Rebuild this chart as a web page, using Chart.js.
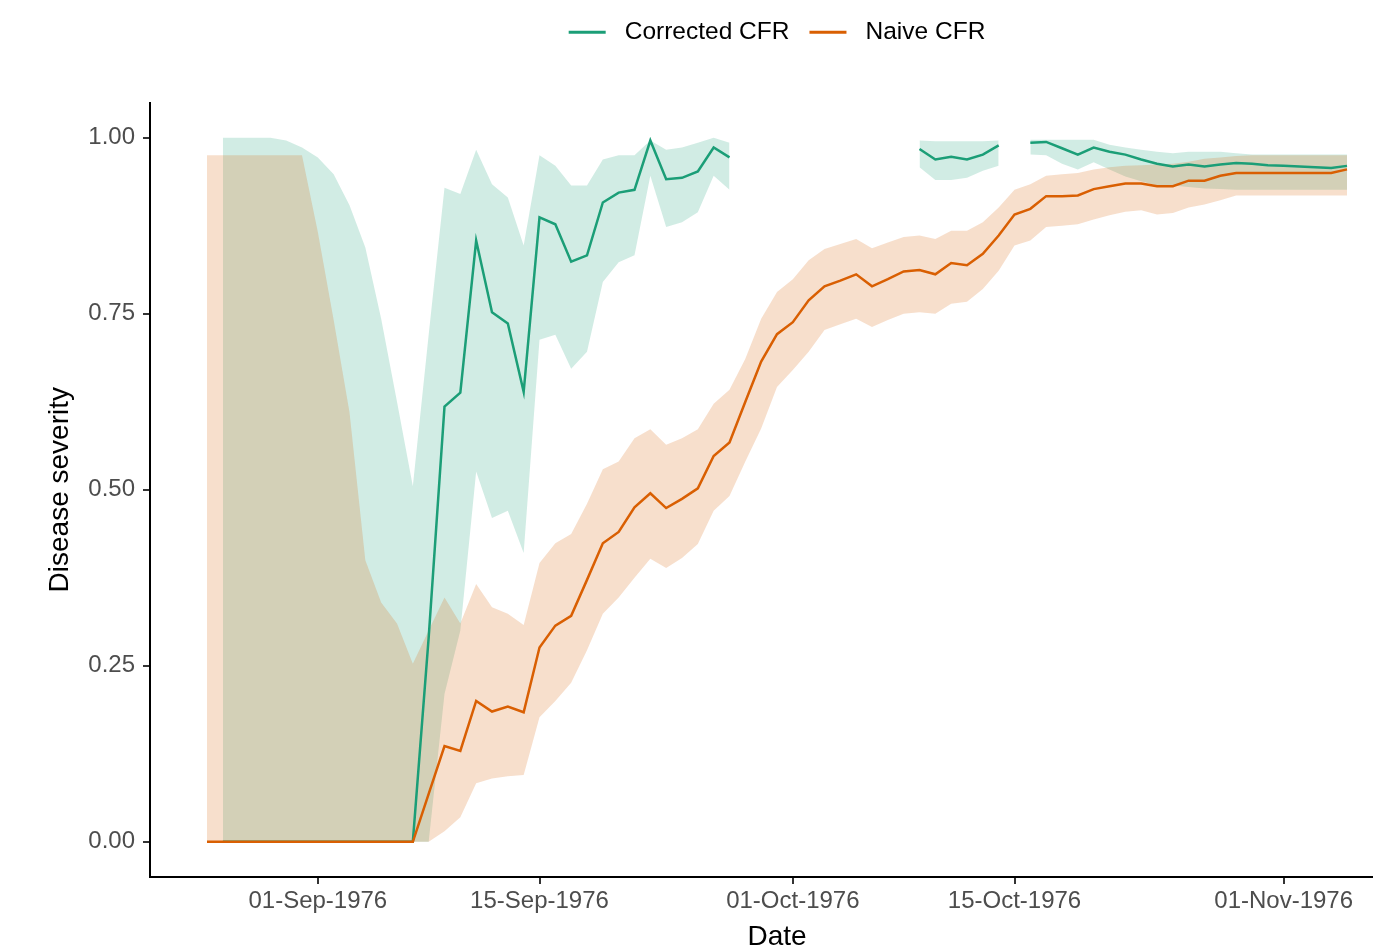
<!DOCTYPE html>
<html>
<head>
<meta charset="utf-8">
<title>CFR</title>
<script src="https://cdn.jsdelivr.net/npm/chart.js@4.4.1/dist/chart.umd.min.js"></script>
<style>
  html, body { margin: 0; padding: 0; background: #fff; overflow: hidden; }
  #wrap { position: absolute; left: 0; top: 0; width: 1404px; height: 951px; }
</style>
</head>
<body>
<div id="wrap"><canvas id="cfr" width="1404" height="951"></canvas></div>
<script>
// days counted from 01-Sep-1976 (first point is 25-Aug-1976)
var days = [];
for (var d = -7; d <= 65; d++) days.push(d);

var tickDays = [0, 14, 30, 44, 61];
var tickLabels = ["01-Sep-1976", "15-Sep-1976", "01-Oct-1976", "15-Oct-1976", "01-Nov-1976"];
var yTicks = [0, 0.25, 0.5, 0.75, 1];

var naive = [
  0, 0, 0, 0, 0, 0, 0, 0, 0, 0, 0, 0, 0, 0,
  0.068, 0.136, 0.129, 0.2, 0.185, 0.192, 0.184, 0.276, 0.307, 0.321,
  0.372, 0.424, 0.44, 0.475, 0.495, 0.474, 0.487, 0.502, 0.548, 0.567,
  0.625, 0.682, 0.721, 0.738, 0.769, 0.789, 0.797, 0.806, 0.789, 0.799,
  0.81, 0.812, 0.806, 0.822, 0.819, 0.835, 0.861, 0.891, 0.899, 0.917,
  0.917, 0.918, 0.927, 0.931, 0.935, 0.935, 0.931, 0.931, 0.939, 0.939,
  0.946, 0.95, 0.95, 0.95, 0.95, 0.95, 0.95, 0.95, 0.955
];
var naiveLow = [
  0, 0, 0, 0, 0, 0, 0, 0, 0, 0, 0, 0, 0, 0, 0,
  0.015, 0.035, 0.083, 0.09, 0.093, 0.095, 0.177, 0.2, 0.226, 0.272,
  0.324, 0.347, 0.375, 0.402, 0.389, 0.403, 0.423, 0.47, 0.491, 0.54,
  0.587, 0.646, 0.67, 0.696, 0.727, 0.735, 0.743, 0.731, 0.741, 0.75,
  0.752, 0.75, 0.764, 0.767, 0.785, 0.811, 0.847, 0.854, 0.873, 0.875,
  0.877, 0.884, 0.89, 0.895, 0.897, 0.891, 0.893, 0.901, 0.905, 0.911,
  0.918, 0.918, 0.918, 0.918, 0.918, 0.918, 0.918, 0.918
];
var naiveHigh = [
  0.975, 0.975, 0.975, 0.975, 0.975, 0.975, 0.975,
  0.866, 0.741, 0.61, 0.4, 0.34, 0.31, 0.253, 0.3, 0.347, 0.31,
  0.366, 0.333, 0.324, 0.308, 0.396, 0.424, 0.437, 0.48, 0.529, 0.54,
  0.573, 0.586, 0.564, 0.573, 0.586, 0.622, 0.642, 0.686, 0.743, 0.781,
  0.799, 0.826, 0.842, 0.849, 0.856, 0.843, 0.851, 0.859, 0.861, 0.856,
  0.868, 0.868, 0.88, 0.901, 0.926, 0.934, 0.946, 0.948, 0.95, 0.955,
  0.958, 0.96, 0.961, 0.962, 0.963, 0.966, 0.97, 0.972, 0.974,
  0.975, 0.975, 0.975, 0.975, 0.975, 0.975, 0.975
];

var corrected = [
  null, 0, 0, 0, 0, 0, 0, 0, 0, 0, 0, 0, 0, 0,
  0.29, 0.618, 0.638, 0.854, 0.752, 0.736, 0.639, 0.887, 0.877, 0.824,
  0.833, 0.908, 0.922, 0.926, 0.996, 0.941, 0.943, 0.952, 0.986, 0.972,
  null, null, null, null, null, null, null, null, null, null, null,
  0.984, 0.969, 0.973, 0.969, 0.976, 0.989,
  null,
  0.993, 0.994, 0.985, 0.976, 0.986, 0.98, 0.976, 0.969, 0.963, 0.959,
  0.962, 0.959, 0.962, 0.964, 0.963, 0.961, 0.96, 0.959, 0.958, 0.957, 0.96
];
var correctedLow = [
  null, 0, 0, 0, 0, 0, 0, 0, 0, 0, 0, 0, 0, 0,
  0, 0.21, 0.3, 0.526, 0.46, 0.47, 0.41, 0.713, 0.72, 0.672,
  0.696, 0.795, 0.823, 0.833, 0.946, 0.873, 0.88, 0.894, 0.946, 0.926,
  null, null, null, null, null, null, null, null, null, null, null,
  0.958, 0.94, 0.94, 0.943, 0.953, 0.96,
  null,
  0.976, 0.975, 0.963, 0.955, 0.965, 0.955, 0.945, 0.938, 0.932, 0.932,
  0.93, 0.928, 0.927, 0.926, 0.926, 0.926, 0.926, 0.926, 0.926, 0.926, 0.926
];
var correctedHigh = [
  null, 1, 1, 1, 1, 0.996, 0.986,
  0.972, 0.948, 0.904, 0.844, 0.743, 0.625, 0.505,
  0.72, 0.929, 0.92, 0.983, 0.934, 0.915, 0.847, 0.975, 0.96, 0.932,
  0.932, 0.969, 0.975, 0.975, 0.996, 0.983, 0.986, 0.993, 1, 0.993,
  null, null, null, null, null, null, null, null, null, null, null,
  0.996, 0.995, 0.995, 0.995, 0.995, 0.996,
  null,
  0.997, 0.997, 0.997, 0.997, 0.997, 0.99, 0.986, 0.983, 0.98, 0.978,
  0.98, 0.98, 0.98, 0.978, 0.976, 0.976, 0.976, 0.976, 0.976, 0.976, 0.976
];

var teal = "#1B9E77";
var orange = "#D95F02";

function pts(values) {
  return days.map(function (x, i) { return { x: x, y: values[i] }; });
}

Chart.defaults.font.family = "'Liberation Sans', Arial, sans-serif";

// push the panel down below the legend, like the ggplot layout
var legendGap = {
  id: "legendGap",
  beforeInit: function (chart) {
    var fit = chart.legend.fit;
    chart.legend.fit = function () {
      fit.call(this);
      this.height += 48;
    };
  }
};

new Chart(document.getElementById("cfr").getContext("2d"), {
  type: "line",
  data: {
    datasets: [
      { label: "Corrected CFR", data: pts(corrected), borderColor: teal, backgroundColor: teal,
        borderWidth: 2.5, pointRadius: 0, fill: false, order: 1 },
      { label: "Naive CFR", data: pts(naive), borderColor: orange, backgroundColor: orange,
        borderWidth: 2.5, pointRadius: 0, fill: false, order: 0 },
      { label: "corr-low", data: pts(correctedLow), borderWidth: 0, borderColor: "rgba(0,0,0,0)",
        pointRadius: 0, fill: false, order: 3 },
      { label: "corr-high", data: pts(correctedHigh), borderWidth: 0, borderColor: "rgba(0,0,0,0)",
        backgroundColor: "rgba(27,158,119,0.2)", pointRadius: 0, fill: 2, order: 3 },
      { label: "naive-low", data: pts(naiveLow), borderWidth: 0, borderColor: "rgba(0,0,0,0)",
        pointRadius: 0, fill: false, order: 2 },
      { label: "naive-high", data: pts(naiveHigh), borderWidth: 0, borderColor: "rgba(0,0,0,0)",
        backgroundColor: "rgba(217,95,2,0.2)", pointRadius: 0, fill: 4, order: 2 }
    ]
  },
  options: {
    responsive: false,
    animation: false,
    devicePixelRatio: 1,
    spanGaps: false,
    layout: { padding: 0 },
    plugins: {
      tooltip: { enabled: false },
      legend: {
        position: "top",
        fullSize: false,
        labels: {
          generateLabels: function (chart) {
            var items = Chart.defaults.plugins.legend.labels.generateLabels(chart);
            items.forEach(function (it) {
              it.lineWidth = 0;
              it.strokeStyle = "rgba(0,0,0,0)";
              it.text = " " + it.text;
            });
            return items;
          },
          filter: function (item) { return item.datasetIndex < 2; },
          sort: function (a, b) { return a.datasetIndex - b.datasetIndex; },
          boxWidth: 37,
          boxHeight: 3,
          padding: 20,
          color: "#000",
          font: { size: 24.5 }
        }
      }
    },
    scales: {
      x: {
        type: "linear",
        min: -10.6,
        max: 68.6,
        afterBuildTicks: function (scale) {
          scale.ticks = tickDays.map(function (v) { return { value: v }; });
        },
        afterFit: function (scale) { scale.height = 74; },
        ticks: {
          autoSkip: false,
          maxRotation: 0,
          padding: 3,
          color: "#4D4D4D",
          font: { size: 24 },
          callback: function (v) { return tickLabels[tickDays.indexOf(v)]; }
        },
        grid: { drawOnChartArea: false, drawTicks: true, tickLength: 7, color: "#333", lineWidth: 2 },
        border: { display: true, color: "#000", width: 2 },
        title: { display: true, text: "Date", color: "#000", font: { size: 28, lineHeight: 1 }, padding: 0 }
      },
      y: {
        min: -0.05,
        max: 1.05,
        afterBuildTicks: function (scale) {
          scale.ticks = yTicks.map(function (v) { return { value: v }; });
        },
        afterFit: function (scale) { scale.width = 150; },
        ticks: {
          padding: 8,
          color: "#4D4D4D",
          font: { size: 24 },
          callback: function (v) { return v.toFixed(2); }
        },
        grid: { drawOnChartArea: false, drawTicks: true, tickLength: 7, color: "#333", lineWidth: 2 },
        border: { display: true, color: "#000", width: 2 },
        title: { display: true, text: "Disease severity", color: "#000", font: { size: 28, lineHeight: 1 }, padding: { top: 46, bottom: 0 } }
      }
    }
  },
  plugins: [legendGap]
});
</script>
</body>
</html>
